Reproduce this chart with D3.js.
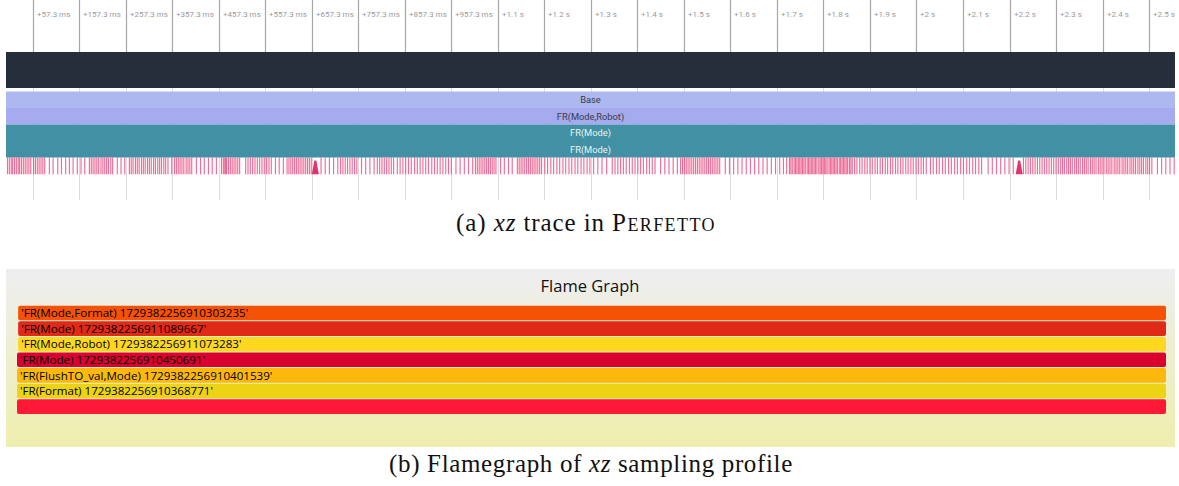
<!DOCTYPE html>
<html>
<head>
<meta charset="utf-8">
<script src="https://cdn.jsdelivr.net/npm/d3@7/dist/d3.min.js"></script>
<style>
  body { margin: 0; background: #fff; }
  svg { display: block; }
</style>
</head>
<body>
<svg id="chart" width="1179" height="486"></svg>
<script>
// ---- timeline data (ms from trace start) ----
const traceSpan = [0, 2513];
const tickTimes = [57.3, 157.3, 257.3, 357.3, 457.3, 557.3, 657.3, 757.3, 857.3, 957.3,
  1057.3, 1157.3, 1257.3, 1357.3, 1457.3, 1557.3, 1657.3, 1757.3, 1857.3, 1957.3,
  2057.3, 2157.3, 2257.3, 2357.3, 2457.3];
const tickLabels = ['+57.3 ms', '+157.3 ms', '+257.3 ms', '+357.3 ms', '+457.3 ms', '+557.3 ms',
  '+657.3 ms', '+757.3 ms', '+857.3 ms', '+957.3 ms', '+1.1 s', '+1.2 s', '+1.3 s', '+1.4 s',
  '+1.5 s', '+1.6 s', '+1.7 s', '+1.8 s', '+1.9 s', '+2 s', '+2.1 s', '+2.2 s', '+2.3 s',
  '+2.4 s', '+2.5 s'];

const trackNames = ['Base', 'FR(Mode,Robot)', 'FR(Mode)', 'FR(Mode)'];
const trackColors = ['#adb8f0', '#a6aaee', '#4190a3', '#4190a3'];
const trackTextColors = ['#3b3b4a', '#3b3b4a', '#eef4f5', '#eef4f5'];

// thin sample slices on the bottom track (start time, ms)
const sliceTimes = [
  2, 6, 10, 13, 17, 21, 25, 28, 32, 36, 40, 44, 48, 52, 58, 62, 66, 70, 74, 78, 82,
  92, 100, 110, 118, 127, 135, 143, 152, 160, 168,
  178, 182, 186, 190, 194, 198, 203, 207, 211, 215, 219, 224, 228, 238, 246, 254,
  264, 268, 272, 277, 281, 285, 290, 294, 298, 303, 307, 311, 316, 320, 325, 329, 333, 338, 342, 347, 355,
  361, 365, 369, 373, 377, 381, 386, 390, 394, 398, 408, 417, 425, 434, 442, 451,
  462, 466, 469, 471, 473, 477, 481, 485, 489, 493, 497, 501,
  514, 519, 524, 529, 534, 539, 544, 549, 554, 559, 564, 569, 578, 586, 595,
  603, 607, 611, 615, 619, 623, 627, 631, 635, 639, 643, 647, 651, 655,
  676, 685, 694, 703, 712, 718, 723, 728, 733, 738, 743, 748, 753, 763, 772, 781, 790,
  797, 802, 807, 812, 817, 822, 827, 832,
  840, 846, 852, 858, 864, 870, 877, 883, 889, 895, 901, 907, 914, 920, 926, 932, 938, 944, 950, 956,
  966, 975, 984, 993, 1002,
  1008, 1012, 1016, 1020, 1024, 1028, 1032, 1036, 1040, 1044, 1048, 1052, 1062, 1070, 1079, 1087,
  1098, 1102, 1106, 1110, 1114, 1118, 1122, 1126, 1130, 1134, 1138, 1142, 1146, 1150,
  1157, 1163, 1170, 1176, 1183, 1189, 1196, 1202, 1209, 1215, 1222, 1228, 1235, 1241, 1248, 1254,
  1262, 1271, 1280, 1290,
  1302, 1308, 1314, 1320, 1326, 1332, 1339, 1345, 1351, 1357, 1363, 1369, 1376, 1382, 1388, 1394,
  1406, 1415, 1424, 1433, 1442,
  1449, 1453, 1457, 1461, 1465, 1469, 1473, 1477, 1481, 1485, 1489, 1493, 1497, 1501, 1505, 1509,
  1513, 1517, 1521, 1525, 1529, 1533,
  1545, 1554, 1563, 1572, 1581, 1590, 1599, 1608, 1617, 1626, 1635, 1644, 1653, 1662, 1670, 1677,
  1683, 1686, 1689, 1693, 1696, 1699, 1702, 1705, 1708, 1711, 1714, 1717, 1721, 1724, 1727, 1730,
  1733, 1736, 1739, 1742, 1746, 1749, 1752, 1755, 1758, 1761, 1764, 1768, 1771, 1774, 1777, 1780,
  1783, 1786, 1790, 1793, 1796, 1799, 1802, 1805, 1808, 1812, 1815, 1818,
  1823, 1828, 1834, 1839, 1845, 1850, 1856, 1861, 1867, 1872, 1878, 1883, 1889, 1894, 1900, 1905,
  1911, 1916, 1922, 1927, 1933, 1938, 1944, 1949, 1955, 1960, 1966, 1971, 1977,
  1986, 1992, 1999, 2005, 2012, 2018, 2025, 2031, 2038, 2044, 2051, 2057, 2064, 2070, 2077, 2083, 2090, 2096,
  2110, 2119, 2128, 2137, 2146, 2155, 2164,
  2186, 2191, 2196, 2201, 2206, 2211, 2216, 2221, 2226, 2231, 2236, 2241, 2246, 2251, 2256, 2261,
  2266, 2270, 2274, 2279, 2283, 2287, 2291, 2296, 2300, 2304, 2308, 2313, 2317, 2321, 2325, 2330,
  2334, 2338, 2342, 2347, 2351, 2355, 2359, 2364, 2368, 2372, 2376, 2381, 2385, 2389, 2393, 2398,
  2402, 2406, 2410, 2415, 2419, 2423, 2427, 2432, 2436, 2440, 2444, 2449, 2453, 2457, 2462,
  2474, 2483, 2492, 2501, 2510
];
const instantTimes = [665, 2178];

// ---- flame graph data (samples) ----
const flameLabels = ['', "'FR(Format) 1729382256910368771'", "'FR(FlushTO_val,Mode) 1729382256910401539'",
  "'FR(Mode) 1729382256910450691'", "'FR(Mode,Robot) 1729382256911073283'",
  "'FR(Mode) 1729382256911089667'", "'FR(Mode,Format) 1729382256910303235'"];
const flameStart = [0, 0, 0, 0, 1, 1, 1];
const flameEnd = [1000, 1000, 1000, 1000, 1000, 1000, 1000];
const flameColors = ['#fe1838', '#ecd415', '#fcb90b', '#da0030', '#fdd81f', '#e02a17', '#f55205'];

const captionA = ['(a) ', 'xz', ' trace in ', 'Perfetto'];
const captionB = ['(b) Flamegraph of ', 'xz', ' sampling profile'];

const svg = d3.select('#chart');

// ---------- (a) Perfetto timeline ----------
const x = d3.scaleLinear().domain(traceSpan).range([6, 1175]);

const tracks = d3.scaleBand().domain(d3.range(trackNames.length)).range([91.5, 157.5]);

// light grid lines through the track area
svg.append('g').selectAll('line')
  .data(tickTimes)
  .join('line')
  .attr('x1', d => Math.round(x(d)) + 0.5)
  .attr('x2', d => Math.round(x(d)) + 0.5)
  .attr('y1', 88)
  .attr('y2', 200)
  .attr('stroke', '#dcdcdc')
  .attr('stroke-width', 1);

// ruler ticks and labels
const ruler = svg.append('g');
ruler.selectAll('line')
  .data(tickTimes)
  .join('line')
  .attr('x1', d => Math.round(x(d)) + 0.5)
  .attr('x2', d => Math.round(x(d)) + 0.5)
  .attr('y1', 0)
  .attr('y2', 52)
  .attr('stroke', '#a6a6a6')
  .attr('stroke-width', 1.2);
ruler.selectAll('text')
  .data(tickTimes)
  .join('text')
  .attr('x', d => Math.round(x(d)) + 4)
  .attr('y', 17)
  .attr('font-family', 'Roboto, sans-serif')
  .attr('font-size', '8px')
  .attr('fill', '#9a9a9a')
  .text((d, i) => tickLabels[i]);

// dark overview band
svg.append('rect')
  .attr('x', x(traceSpan[0]))
  .attr('y', 52)
  .attr('width', x(traceSpan[1]) - x(traceSpan[0]))
  .attr('height', 36)
  .attr('fill', '#262d3b');

// slice tracks
const trackG = svg.append('g');
trackG.selectAll('rect')
  .data(trackNames)
  .join('rect')
  .attr('x', x(traceSpan[0]))
  .attr('y', (d, i) => tracks(i))
  .attr('width', x(traceSpan[1]) - x(traceSpan[0]))
  .attr('height', tracks.bandwidth())
  .attr('fill', (d, i) => trackColors[i]);
trackG.selectAll('text')
  .data(trackNames)
  .join('text')
  .attr('x', (x(traceSpan[0]) + x(traceSpan[1])) / 2)
  .attr('y', (d, i) => tracks(i) + tracks.bandwidth() / 2)
  .attr('dy', '0.35em')
  .attr('text-anchor', 'middle')
  .attr('font-family', 'Roboto, sans-serif')
  .attr('font-size', '9.3px')
  .attr('fill', (d, i) => trackTextColors[i])
  .text(d => d);

// thin sample slices
const sliceY = 157.5, sliceH = 16.8;
svg.append('g').selectAll('rect')
  .data(sliceTimes)
  .join('rect')
  .attr('x', d => x(d))
  .attr('y', sliceY)
  .attr('width', 1.15)
  .attr('height', sliceH)
  .attr('fill', '#e9487f')
  .attr('fill-opacity', 0.8);

// instant markers (chevrons)
svg.append('g').selectAll('path')
  .data(instantTimes)
  .join('path')
  .attr('d', d => {
    const cx = x(d);
    return `M${cx - 3.5},${sliceY + sliceH} L${cx - 1},${sliceY + 3} L${cx + 1},${sliceY + 3} L${cx + 3.5},${sliceY + sliceH} Z`;
  })
  .attr('fill', '#e2336f');

// caption (a)
const capA = svg.append('text')
  .attr('x', 586)
  .attr('y', 231)
  .attr('text-anchor', 'middle')
  .attr('font-family', '"Liberation Serif", serif')
  .attr('font-size', '25px')
  .style('letter-spacing', '0.9px')
  .attr('fill', '#111');
captionA.forEach((s, i) => {
  const t = capA.append('tspan').text(s);
  if (i === 1) t.attr('font-style', 'italic');
  if (i === 3) t.attr('font-variant', 'small-caps').style('letter-spacing', '1.4px');
});

// ---------- (b) Flame graph ----------
const defs = svg.append('defs');
const grad = defs.append('linearGradient')
  .attr('id', 'flame-bg')
  .attr('x1', 0).attr('y1', 0).attr('x2', 0).attr('y2', 1);
grad.append('stop').attr('offset', '5%').attr('stop-color', '#eeeeee');
grad.append('stop').attr('offset', '95%').attr('stop-color', '#eeeeb0');

svg.append('rect')
  .attr('x', 6)
  .attr('y', 269)
  .attr('width', 1169)
  .attr('height', 178)
  .attr('fill', 'url(#flame-bg)');

svg.append('text')
  .attr('x', 590)
  .attr('y', 292)
  .attr('text-anchor', 'middle')
  .attr('font-family', '"Open Sans", sans-serif')
  .attr('font-size', '16.5px')
  .attr('fill', '#111')
  .text('Flame Graph');

const fx = d3.scaleLinear().domain([0, 1000]).range([17, 1166]);
const fy = d3.scaleLinear().domain([0, 1]).range([399.3, 383.7]);
const frameH = 14.6;

const frames = svg.append('g').selectAll('g')
  .data(flameLabels)
  .join('g');
frames.append('rect')
  .attr('x', (d, i) => fx(flameStart[i]))
  .attr('y', (d, i) => fy(i))
  .attr('width', (d, i) => fx(flameEnd[i]) - fx(flameStart[i]))
  .attr('height', frameH)
  .attr('rx', 2)
  .attr('fill', (d, i) => flameColors[i]);
frames.append('text')
  .attr('x', (d, i) => fx(flameStart[i]) + 3)
  .attr('y', (d, i) => fy(i) + frameH / 2)
  .attr('dy', '0.36em')
  .attr('font-family', '"Open Sans", sans-serif')
  .attr('font-size', '11.6px')
  .attr('fill', '#000')
  .text(d => d);

// caption (b)
const capB = svg.append('text')
  .attr('x', 591)
  .attr('y', 472)
  .attr('text-anchor', 'middle')
  .attr('font-family', '"Liberation Serif", serif')
  .attr('font-size', '25px')
  .style('letter-spacing', '0.65px')
  .attr('fill', '#111');
captionB.forEach((s, i) => {
  const t = capB.append('tspan').text(s);
  if (i === 1) t.attr('font-style', 'italic');
});
</script>
</body>
</html>
